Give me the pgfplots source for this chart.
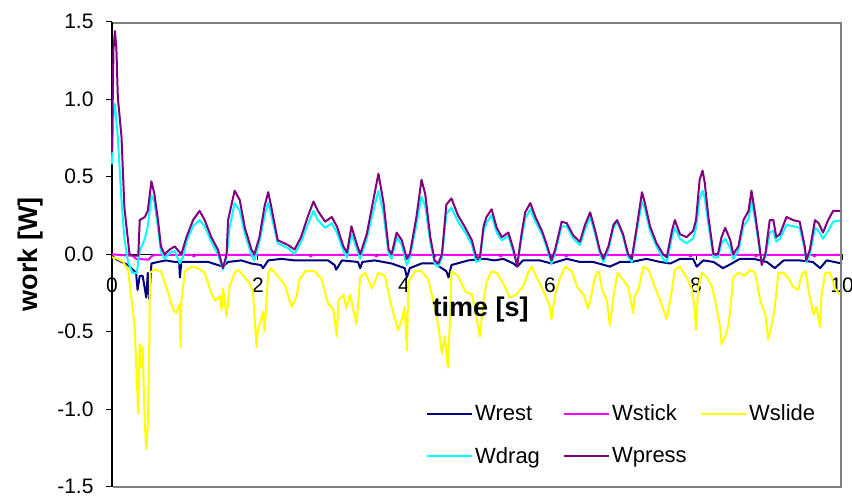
\documentclass[border=0pt]{standalone}
\usepackage{fontspec}
\setmainfont{Liberation Sans}
\usepackage{pgfplots}
\pgfplotsset{compat=1.18}
\usepackage{pgfplotstable}
\definecolor{cRest}{HTML}{000080}
\definecolor{cStick}{HTML}{FF00FF}
\definecolor{cSlide}{HTML}{FFFF00}
\definecolor{cDrag}{HTML}{00FFFF}
\definecolor{cPress}{HTML}{800080}

\pgfplotstableread{
t w
0.00 -0.01
0.05 -0.03
0.13 -0.05
0.22 -0.07
0.33 -0.12
0.35 -0.23
0.38 -0.14
0.42 -0.14
0.47 -0.28
0.49 -0.12
0.51 -0.29
0.54 -0.06
0.63 -0.05
0.74 -0.04
0.86 -0.05
0.92 -0.05
0.93 -0.15
0.95 -0.05
1.09 -0.05
1.32 -0.05
1.45 -0.07
1.52 -0.08
1.59 -0.05
1.77 -0.04
1.91 -0.06
2.04 -0.07
2.07 -0.09
2.14 -0.04
2.32 -0.03
2.50 -0.04
2.65 -0.04
2.96 -0.04
3.05 -0.07
3.07 -0.10
3.15 -0.04
3.37 -0.05
3.40 -0.09
3.43 -0.05
3.60 -0.04
3.83 -0.06
4.01 -0.09
4.04 -0.15
4.08 -0.09
4.24 -0.06
4.42 -0.06
4.58 -0.11
4.61 -0.15
4.65 -0.07
4.88 -0.04
5.11 -0.03
5.24 -0.04
5.36 -0.03
5.50 -0.06
5.55 -0.08
5.63 -0.04
5.86 -0.04
6.02 -0.06
6.23 -0.03
6.41 -0.05
6.59 -0.05
6.82 -0.08
6.96 -0.05
7.12 -0.05
7.32 -0.03
7.51 -0.05
7.65 -0.06
7.78 -0.03
7.96 -0.03
8.01 -0.08
8.10 -0.04
8.24 -0.05
8.37 -0.09
8.49 -0.06
8.60 -0.03
8.79 -0.03
8.97 -0.05
9.08 -0.09
9.20 -0.04
9.42 -0.04
9.60 -0.05
9.70 -0.09
9.79 -0.04
10.0 -0.06
}\Wrest

\pgfplotstableread{
t w
0.00 0.00
0.10 -0.005
0.28 -0.010
0.33 -0.030
0.50 -0.035
0.55 -0.010
0.60 -0.005
1.10 -0.005
1.12 -0.015
1.15 -0.005
1.90 -0.005
1.92 -0.015
1.95 -0.005
2.70 -0.005
2.72 -0.015
2.75 -0.005
3.60 -0.005
3.62 -0.015
3.65 -0.005
4.40 -0.005
4.42 -0.015
4.45 -0.005
5.30 -0.005
5.32 -0.015
5.35 -0.005
6.20 -0.005
6.22 -0.015
6.25 -0.005
7.10 -0.005
7.12 -0.015
7.15 -0.005
7.90 -0.005
7.92 -0.015
7.95 -0.005
8.80 -0.005
8.82 -0.015
8.85 -0.005
9.60 -0.005
9.62 -0.015
9.65 -0.005
10.0 -0.005
}\Wstick

\pgfplotstableread{
t w
0.00 -0.02
0.08 -0.03
0.15 -0.05
0.22 -0.10
0.27 -0.30
0.31 -0.47
0.36 -1.03
0.38 -0.58
0.40 -0.73
0.42 -0.60
0.45 -1.11
0.47 -1.26
0.49 -1.11
0.51 -0.60
0.52 -0.12
0.58 -0.10
0.67 -0.11
0.77 -0.25
0.84 -0.36
0.88 -0.38
0.93 -0.32
0.94 -0.60
0.95 -0.30
1.00 -0.11
1.09 -0.08
1.18 -0.09
1.27 -0.12
1.36 -0.25
1.41 -0.30
1.48 -0.27
1.50 -0.36
1.52 -0.22
1.57 -0.40
1.61 -0.21
1.68 -0.12
1.73 -0.10
1.82 -0.15
1.89 -0.19
1.93 -0.24
1.98 -0.60
2.00 -0.48
2.04 -0.43
2.07 -0.37
2.09 -0.50
2.14 -0.12
2.18 -0.09
2.27 -0.14
2.37 -0.20
2.46 -0.34
2.53 -0.27
2.57 -0.16
2.65 -0.11
2.78 -0.11
2.87 -0.16
2.96 -0.32
3.03 -0.35
3.08 -0.53
3.10 -0.30
3.17 -0.26
3.21 -0.35
3.26 -0.26
3.35 -0.45
3.40 -0.15
3.47 -0.12
3.56 -0.22
3.65 -0.12
3.74 -0.14
3.83 -0.34
3.92 -0.49
3.97 -0.42
4.01 -0.34
4.04 -0.62
4.06 -0.18
4.15 -0.11
4.24 -0.11
4.33 -0.16
4.42 -0.34
4.47 -0.46
4.52 -0.64
4.56 -0.53
4.60 -0.73
4.63 -0.43
4.65 -0.11
4.74 -0.14
4.84 -0.24
4.93 -0.26
4.99 -0.40
5.04 -0.53
5.09 -0.30
5.13 -0.18
5.20 -0.11
5.27 -0.12
5.36 -0.19
5.45 -0.28
5.54 -0.26
5.63 -0.21
5.70 -0.12
5.75 -0.08
5.84 -0.17
5.93 -0.26
6.00 -0.34
6.02 -0.42
6.07 -0.26
6.14 -0.15
6.21 -0.08
6.30 -0.11
6.37 -0.21
6.46 -0.26
6.52 -0.35
6.55 -0.30
6.62 -0.14
6.67 -0.11
6.71 -0.22
6.78 -0.30
6.82 -0.46
6.87 -0.27
6.91 -0.16
6.93 -0.12
7.07 -0.21
7.14 -0.38
7.16 -0.27
7.21 -0.23
7.28 -0.08
7.35 -0.10
7.42 -0.19
7.51 -0.30
7.60 -0.42
7.67 -0.23
7.71 -0.10
7.78 -0.08
7.87 -0.15
7.94 -0.22
7.98 -0.34
8.00 -0.49
8.03 -0.22
8.08 -0.12
8.15 -0.15
8.22 -0.21
8.28 -0.34
8.33 -0.47
8.35 -0.58
8.40 -0.53
8.44 -0.47
8.47 -0.36
8.51 -0.15
8.58 -0.12
8.67 -0.14
8.74 -0.10
8.81 -0.12
8.88 -0.30
8.95 -0.39
8.99 -0.55
9.04 -0.45
9.08 -0.34
9.13 -0.12
9.20 -0.12
9.27 -0.16
9.33 -0.21
9.40 -0.23
9.45 -0.13
9.50 -0.11
9.56 -0.28
9.61 -0.39
9.65 -0.34
9.70 -0.47
9.72 -0.26
9.77 -0.12
9.84 -0.12
9.90 -0.22
9.97 -0.26
10.0 -0.24
}\Wslide

\pgfplotstableread{
t w
0.00 0.58
0.02 0.90
0.04 0.97
0.06 0.86
0.08 0.75
0.13 0.35
0.17 0.10
0.22 -0.05
0.28 -0.12
0.34 -0.12
0.38 0.02
0.45 0.10
0.49 0.18
0.54 0.38
0.58 0.34
0.63 0.17
0.67 0.02
0.72 -0.03
0.79 0.01
0.86 0.02
0.93 -0.06
0.97 -0.02
1.02 0.08
1.11 0.18
1.20 0.22
1.27 0.18
1.36 0.08
1.45 0.00
1.52 -0.10
1.57 -0.02
1.61 0.17
1.68 0.33
1.75 0.28
1.82 0.13
1.91 0.00
1.95 -0.04
2.02 0.08
2.09 0.25
2.14 0.33
2.18 0.26
2.27 0.07
2.41 0.04
2.50 0.00
2.59 0.08
2.68 0.19
2.76 0.28
2.82 0.22
2.92 0.17
3.01 0.20
3.08 0.14
3.17 0.02
3.22 -0.02
3.28 0.13
3.35 0.04
3.40 -0.03
3.49 0.10
3.58 0.28
3.65 0.41
3.72 0.26
3.79 0.00
3.83 -0.03
3.90 0.11
3.97 0.06
4.04 -0.07
4.08 -0.02
4.17 0.19
4.24 0.37
4.29 0.31
4.36 0.08
4.42 -0.06
4.47 -0.08
4.52 -0.02
4.58 0.26
4.65 0.30
4.74 0.21
4.84 0.14
4.93 0.06
4.99 -0.05
5.04 -0.04
5.09 0.15
5.13 0.20
5.20 0.25
5.27 0.14
5.34 0.09
5.43 0.12
5.50 0.01
5.55 -0.06
5.61 0.10
5.66 0.23
5.73 0.29
5.80 0.21
5.89 0.13
5.95 0.05
6.02 -0.06
6.07 0.01
6.16 0.18
6.23 0.18
6.32 0.10
6.41 0.06
6.48 0.16
6.55 0.24
6.62 0.13
6.68 0.01
6.73 -0.05
6.80 0.03
6.87 0.17
6.92 0.21
7.00 0.12
7.07 -0.02
7.12 -0.05
7.19 0.15
7.26 0.34
7.30 0.29
7.37 0.15
7.46 0.05
7.55 -0.03
7.60 -0.05
7.67 0.11
7.71 0.17
7.78 0.10
7.87 0.07
7.96 0.10
8.00 0.17
8.05 0.36
8.09 0.41
8.12 0.36
8.17 0.19
8.24 -0.02
8.30 -0.02
8.35 0.07
8.40 0.10
8.47 0.04
8.51 -0.03
8.58 0.02
8.65 0.18
8.72 0.23
8.76 0.35
8.81 0.22
8.86 0.06
8.90 -0.05
8.95 -0.02
9.01 0.14
9.06 0.15
9.10 0.08
9.15 0.10
9.24 0.19
9.33 0.18
9.42 0.17
9.49 0.03
9.51 -0.05
9.56 0.00
9.63 0.17
9.68 0.15
9.74 0.10
9.81 0.15
9.88 0.21
10.0 0.22
}\Wdrag

\pgfplotstableread{
t w
0.00 0.66
0.02 1.32
0.04 1.44
0.06 1.33
0.08 1.01
0.13 0.76
0.17 0.30
0.24 0.00
0.30 -0.01
0.36 -0.01
0.38 0.22
0.45 0.24
0.49 0.28
0.54 0.47
0.58 0.39
0.63 0.22
0.67 0.05
0.72 0.00
0.79 0.03
0.86 0.05
0.93 0.01
0.95 0.00
1.02 0.11
1.11 0.22
1.20 0.28
1.27 0.22
1.36 0.11
1.45 0.03
1.52 -0.09
1.57 0.00
1.59 0.22
1.68 0.41
1.75 0.35
1.82 0.17
1.91 0.03
1.95 0.00
2.02 0.11
2.09 0.31
2.14 0.40
2.18 0.31
2.27 0.09
2.41 0.06
2.50 0.03
2.59 0.11
2.68 0.24
2.76 0.34
2.82 0.28
2.92 0.21
3.01 0.24
3.08 0.18
3.17 0.05
3.22 0.01
3.28 0.18
3.35 0.07
3.40 0.00
3.49 0.13
3.58 0.35
3.65 0.52
3.72 0.33
3.79 0.03
3.83 0.00
3.90 0.14
3.97 0.09
4.04 -0.03
4.08 0.00
4.17 0.24
4.24 0.48
4.29 0.39
4.36 0.11
4.42 -0.04
4.47 -0.06
4.52 0.00
4.58 0.32
4.65 0.36
4.74 0.25
4.84 0.17
4.93 0.09
4.99 -0.02
5.04 -0.02
5.09 0.18
5.13 0.24
5.20 0.29
5.27 0.17
5.34 0.11
5.43 0.14
5.50 0.03
5.55 -0.08
5.61 0.13
5.66 0.27
5.73 0.33
5.80 0.24
5.89 0.15
5.95 0.07
6.02 -0.04
6.07 0.03
6.16 0.21
6.23 0.20
6.32 0.12
6.41 0.08
6.48 0.19
6.55 0.27
6.62 0.15
6.68 0.03
6.73 -0.03
6.80 0.05
6.87 0.19
6.92 0.22
7.00 0.13
7.07 0.00
7.12 -0.03
7.19 0.18
7.26 0.40
7.30 0.33
7.37 0.18
7.46 0.07
7.55 0.00
7.60 -0.02
7.67 0.15
7.71 0.22
7.78 0.13
7.87 0.11
7.96 0.15
8.00 0.22
8.05 0.48
8.09 0.54
8.12 0.46
8.17 0.24
8.24 0.00
8.30 0.00
8.35 0.11
8.40 0.17
8.47 0.09
8.51 0.00
8.58 0.05
8.65 0.22
8.72 0.28
8.76 0.41
8.81 0.26
8.86 0.09
8.90 -0.07
8.95 0.00
9.01 0.22
9.06 0.22
9.10 0.11
9.15 0.13
9.24 0.24
9.33 0.22
9.42 0.21
9.49 0.05
9.51 -0.04
9.56 0.03
9.63 0.22
9.68 0.20
9.74 0.14
9.81 0.22
9.88 0.28
10.0 0.28
}\Wpress

\begin{document}
\begin{tikzpicture}
\path[use as bounding box] (-112pt,-11.3pt) rectangle (740pt,486.7pt);
\begin{axis}[
  scale only axis, width=730pt, height=465pt,
  xmin=0, xmax=10, ymin=-1.5, ymax=1.5,
  clip=false,
  axis x line=middle, axis y line=left,
  axis line style={-},
  x axis line style={black, line width=0.8pt},
  y axis line style={black, line width=1.2pt},
  hide obscured x ticks=false, hide obscured y ticks=false,
  xtick={0,2,...,10}, ytick={-1.5,-1,...,1.5},
  tick align=outside, major tick length=6pt,
  tick style={black, line width=1pt},
  /pgf/number format/assume math mode=true,
  yticklabel style={/pgf/number format/fixed, /pgf/number format/fixed zerofill, /pgf/number format/precision=1},
  tick label style={font=\fontsize{21}{25}\selectfont},
  xticklabel style={anchor=north, yshift=-14pt},
  yticklabel style={anchor=east, xshift=-9pt},
  xlabel={time [s]}, ylabel={work [W]},
  every axis x label/.style={at={(axis description cs:0.505,0.38)}, anchor=center, font=\bfseries\fontsize{27}{32}\selectfont},
  every axis y label/.style={at={(axis description cs:-0.112,0.5)}, anchor=center, rotate=90, font=\bfseries\fontsize{27}{32}\selectfont},
  legend columns=3,
  legend style={draw=none, fill=none, at={(axis description cs:0.426,0.185)}, anchor=north west,
    font=\fontsize{22}{26}\selectfont, row sep=21pt,
    /tikz/every even column/.append style={column sep=0pt}},
  legend cell align=left,
  legend image code/.code={\draw[#1, line width=2pt] (0pt,0pt) -- (45pt,0pt);},
  every axis plot/.append style={line width=2pt, line join=round},
]
\addplot[cRest] table[x=t,y=w] {\Wrest};
\addlegendentry{\makebox[86pt][l]{Wrest}}
\addplot[cStick] table[x=t,y=w] {\Wstick};
\addlegendentry{\makebox[86pt][l]{Wstick}}
\addplot[cSlide] table[x=t,y=w] {\Wslide};
\addlegendentry{\makebox[86pt][l]{Wslide}}
\addplot[cDrag] table[x=t,y=w] {\Wdrag};
\addlegendentry{\makebox[86pt][l]{Wdrag}}
\addplot[cPress] table[x=t,y=w] {\Wpress};
\addlegendentry{\makebox[86pt][l]{Wpress}}
\end{axis}
\draw[color=gray, line width=2pt] (1pt,0pt) -- (729pt,0pt) -- (729pt,464pt) -- (1pt,464pt);
\end{tikzpicture}
\end{document}
